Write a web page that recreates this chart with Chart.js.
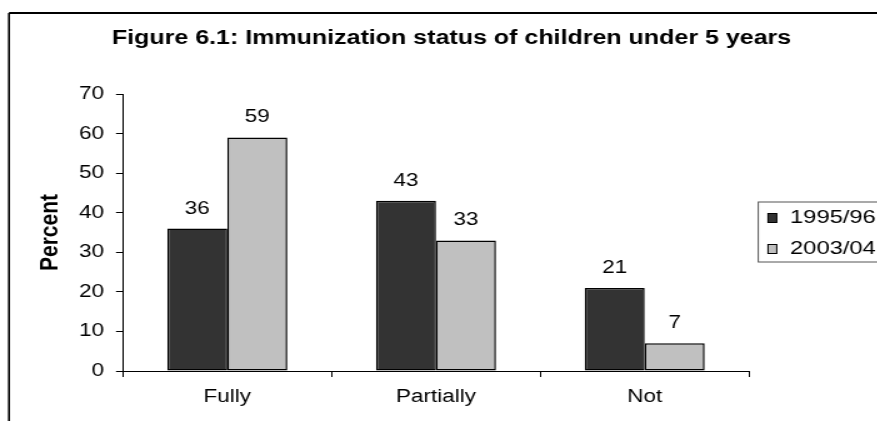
<!DOCTYPE html>
<html>
<head>
<meta charset="utf-8">
<script src="https://cdn.jsdelivr.net/npm/chart.js@4/dist/chart.umd.min.js"></script>
<style>
  html, body { margin: 0; padding: 0; background: #fff; overflow: hidden; }
  #wrap { width: 877px; height: 421px; position: relative; overflow: hidden; }
  #c { position: absolute; left: 0; top: 0; transform-origin: 0 0; transform: scaleX(1.25); }
</style>
</head>
<body>
<div id="wrap"><canvas id="c" width="702" height="421"></canvas></div>
<script>
const categories = ["Fully", "Partially", "Not"];
const seriesNames = ["1995/96", "2003/04"];
const values1995 = [36, 43, 21];
const values2003 = [59, 33, 7];
const yTicks = [0, 10, 20, 30, 40, 50, 60, 70];
const titleText = "Figure 6.1: Immunization status of children under 5 years";
const yTitle = "Percent";

const W = 702;
const FONT = "'Liberation Sans', Arial, sans-serif";

const decor = {
  id: 'decor',
  beforeDraw(chart) {
    const ctx = chart.ctx;
    ctx.save();
    ctx.fillStyle = '#fff';
    ctx.fillRect(0, 0, chart.width, chart.height);
    // frame
    ctx.strokeStyle = '#000';
    ctx.lineWidth = 2;
    ctx.beginPath();
    ctx.moveTo(7.2, 13); ctx.lineTo(W + 5, 13);
    ctx.stroke();
    ctx.lineWidth = 1.6;
    ctx.beginPath();
    ctx.moveTo(7.2, 13); ctx.lineTo(7.2, 430);
    ctx.stroke();
    // title
    ctx.fillStyle = '#000';
    ctx.font = "bold 20px " + FONT;
    ctx.textAlign = 'center';
    ctx.textBaseline = 'middle';
    ctx.fillText(titleText, 361.2, 38);
    ctx.restore();
  },
  afterDatasetsDraw(chart) {
    const ctx = chart.ctx;
    ctx.save();
    ctx.fillStyle = '#000';
    ctx.font = "18px " + FONT;
    ctx.textAlign = 'center';
    ctx.textBaseline = 'middle';
    chart.data.datasets.forEach((ds, di) => {
      chart.getDatasetMeta(di).data.forEach((bar, i) => {
        ctx.fillText(String(ds.data[i]), bar.x, bar.y - 20);
      });
    });
    // legend
    ctx.strokeStyle = '#555';
    ctx.lineWidth = 1;
    ctx.strokeRect(606.6, 202, W, 60);
    ctx.font = "19px " + FONT;
    const ys = [218, 249];
    chart.data.datasets.forEach((ds, di) => {
      ctx.fillStyle = ds.backgroundColor;
      ctx.fillRect(614.4, ys[di] - 4.5, 7, 9);
      ctx.strokeStyle = '#000';
      ctx.lineWidth = 1;
      ctx.strokeRect(614.4, ys[di] - 4.5, 7, 9);
      ctx.fillStyle = '#000';
      ctx.textAlign = 'left';
      ctx.fillText(ds.label, 632, ys[di]);
    });
    ctx.restore();
  }
};

new Chart(document.getElementById('c'), {
  type: 'bar',
  data: {
    labels: categories,
    datasets: [
      { label: seriesNames[0], data: values1995, backgroundColor: '#333333', borderColor: '#000', borderWidth: 1.5, borderSkipped: false },
      { label: seriesNames[1], data: values2003, backgroundColor: '#c0c0c0', borderColor: '#000', borderWidth: 1.5, borderSkipped: false }
    ]
  },
  options: {
    responsive: false,
    animation: false,
    devicePixelRatio: 1,
    layout: { padding: { left: 0, right: W - 599.2, top: 94, bottom: 0 } },
    plugins: { legend: { display: false }, title: { display: false }, tooltip: { enabled: false } },
    datasets: { bar: { categoryPercentage: 0.575, barPercentage: 1 } },
    scales: {
      x: {
        offset: true,
        grid: { offset: true, drawOnChartArea: false, tickLength: 6, color: '#000', tickColor: '#000' },
        border: { display: true, color: '#000', width: 1 },
        ticks: { color: '#000', font: { family: FONT, size: 18 }, padding: 9 },
        afterFit(s) { s.height = 50; }
      },
      y: {
        min: 0, max: 70,
        afterBuildTicks(s) { s.ticks = yTicks.map(v => ({ value: v })); },
        grid: { drawOnChartArea: false, tickLength: 5.6, color: '#000', tickColor: '#000' },
        border: { display: true, color: '#000', width: 1 },
        ticks: { color: '#000', font: { family: FONT, size: 18 }, padding: 9.6 },
        title: { display: true, text: yTitle, color: '#000', font: { family: FONT, size: 21, weight: 'bold' }, padding: { top: 27.4, bottom: 0 } },
        afterFit(s) { s.width = 98.4; }
      }
    }
  },
  plugins: [decor]
});
</script>
</body>
</html>
